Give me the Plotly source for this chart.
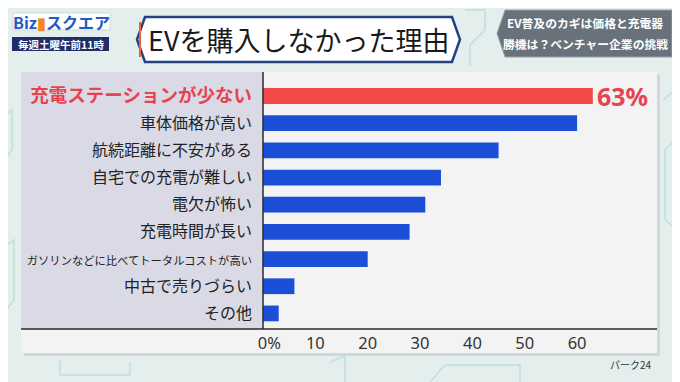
import plotly.graph_objects as go

categories = ["充電ステーションが少ない", "車体価格が高い", "航続距離に不安がある", "自宅での充電が難しい",
              "電欠が怖い", "充電時間が長い", "ガソリンなどに比べてトータルコストが高い", "中古で売りづらい", "その他"]
values = [63, 60, 45, 34, 31, 28, 20, 6, 3]
tick_vals = [0, 10, 20, 30, 40, 50, 60]
tick_text = ["\u00a0\u00a0\u00a00%", "10", "20", "30", "40", "50", "60"]

OFF = 8  # page body margin
W, H = 680 - OFF, 382 - OFF
PX0, PX1, PY0, PY1 = 263, 657, 77, 327  # plot area in page pixels
L, R = PX0 - OFF, W - (PX1 - OFF)
T, B = PY0 - OFF, H - (PY1 - OFF)
PW, PH = PX1 - PX0, PY1 - PY0
FONT = "Noto Sans CJK JP"

def px(x):
    return (x - PX0) / PW

def py(y):
    return (PY1 - y) / PH

colors = ["#f24a48"] + ["#1b4fd8"] * (len(values) - 1)

ticklabels = []
for i, c in enumerate(categories):
    if i == 0:
        ticklabels.append(f"<span style='color:#e8424e;font-size:18.5px'><b>{c}</b></span>")
    elif len(c) > 15:
        ticklabels.append(f"<span style='font-size:11.3px'>{c}</span>")
    else:
        ticklabels.append(c)

fig = go.Figure(go.Bar(
    x=values, y=categories, orientation="h",
    marker=dict(color=colors, line=dict(width=0)),
    width=0.58, hoverinfo="skip",
))

shapes = []
def rect(x0, y0, x1, y1, fill, line=None, lw=0):
    shapes.append(dict(type="rect", xref="paper", yref="paper",
                       x0=px(x0), x1=px(x1), y0=py(y1), y1=py(y0),
                       fillcolor=fill, line=dict(color=line or fill, width=lw), layer="below"))

def path(points, fill, line=None, lw=0, closed=True):
    d = "M " + " L ".join(f"{px(x)},{py(y)}" for x, y in points) + (" Z" if closed else "")
    shapes.append(dict(type="path", xref="paper", yref="paper", path=d,
                       fillcolor=fill, line=dict(color=line or fill, width=lw), layer="below"))

# faint background pattern
deco = "rgba(120,200,190,0.35)"
path([(0, 120), (12, 110), (12, 150), (4, 160), (4, 200)], "rgba(0,0,0,0)", deco, 1.5, closed=False)
path([(0, 250), (14, 240), (14, 300), (2, 315)], "rgba(0,0,0,0)", deco, 1.5, closed=False)
path([(663, 100), (675, 90), (675, 140), (665, 150), (665, 220), (678, 230)], "rgba(0,0,0,0)", deco, 1.5, closed=False)
path([(60, 360), (60, 375), (130, 375), (130, 362)], "rgba(0,0,0,0)", deco, 1.5, closed=False)
path([(330, 362), (345, 356), (345, 382)], "rgba(0,0,0,0)", deco, 1.5, closed=False)
path([(430, 382), (445, 365), (520, 365), (520, 382)], "rgba(0,0,0,0)", deco, 1.5, closed=False)
path([(465, 10), (485, 10), (485, 30), (470, 45), (470, 66)], "rgba(0,0,0,0)", deco, 1.5, closed=False)

# panel
rect(24, 75, 660, 356, "#cfd8d8")
rect(21, 72, 657, 353, "#f3f3f4")
rect(21, 72, 263, 329, "#d9dae6")
# title box
path([(145, 17), (452, 17), (460, 39.5), (452, 62), (145, 62), (137, 39.5)], "#ffffff", "#24427f", 2.5)
# right box
path([(505, 10), (672, 10), (672, 57), (505, 57), (497, 33.5)], "#69717b", "#9aa2ac", 1)
# logo
rect(13, 13, 110, 30, "#ffffff", "#d0d8e0", 1)
rect(12, 37, 109, 51, "#1f2d6b")
# axis lines
shapes.append(dict(type="line", xref="paper", yref="paper", x0=px(21), x1=px(657), y0=py(329), y1=py(329),
                   line=dict(color="#2a2a2a", width=1.5)))
shapes.append(dict(type="line", xref="paper", yref="paper", x0=px(263), x1=px(263), y0=py(72), y1=py(329),
                   line=dict(color="#2a2a2a", width=1.5)))
shapes.append(dict(type="line", xref="paper", yref="paper", x0=px(140), x1=px(140), y0=py(22), y1=py(57),
                   line=dict(color="#e8643a", width=2)))

def note(x, y, text, size, color, xanchor="center", family=FONT):
    return dict(x=px(x), y=py(y), xref="paper", yref="paper", text=text, showarrow=False,
                xanchor=xanchor, yanchor="middle", font=dict(size=size, color=color, family=family))

annotations = [
    dict(x=63, y=categories[0], xref="x", yref="y", text="<b>63%</b>", showarrow=False,
         xanchor="left", yanchor="middle", xshift=2, font=dict(size=25, color="#e8424e", family="Noto Sans")),
    note(298, 39, "EVを購入しなかった理由", 27, "#1a1a1a"),
    note(585, 22, "<b>EV普及のカギは価格と充電器</b>", 11.8, "#ffffff"),
    note(585, 43, "<b>勝機は？ベンチャー企業の挑戦</b>", 11.8, "#ffffff"),
    note(61.5, 21.5,
         "<b><span style='color:#2458c8'>Biz</span><span style='color:#f08a24'>▮</span><span style='color:#2458c8'>スクエア</span></b>",
         16, "#2458c8"),
    note(60.5, 44, "<b>毎週土曜午前11時</b>", 10.5, "#ffffff"),
    note(654, 364, "パーク24", 10, "#333333", xanchor="right"),
]

fig.update_layout(
    width=W, height=H,
    margin=dict(l=L, r=R, t=T, b=B, autoexpand=False),
    paper_bgcolor="#e3eeed",
    plot_bgcolor="rgba(0,0,0,0)",
    showlegend=False,
    shapes=shapes,
    annotations=annotations,
    font=dict(family=FONT, color="#222222"),
    xaxis=dict(range=[0, PW / 5.235], tickvals=tick_vals, ticktext=tick_text, showgrid=False,
               zeroline=False, showline=False, ticks="", tickfont=dict(size=16.5, color="#333333",
               family="Noto Sans"), ticklabelstandoff=4, fixedrange=True, automargin=False),
    yaxis=dict(type="category", autorange="reversed", tickvals=categories, ticktext=ticklabels,
               showgrid=False, zeroline=False, showline=False, ticks="", automargin=False,
               tickfont=dict(size=16, color="#222222", family=FONT), ticklabelstandoff=10),
)

fig.write_html("out.html")
